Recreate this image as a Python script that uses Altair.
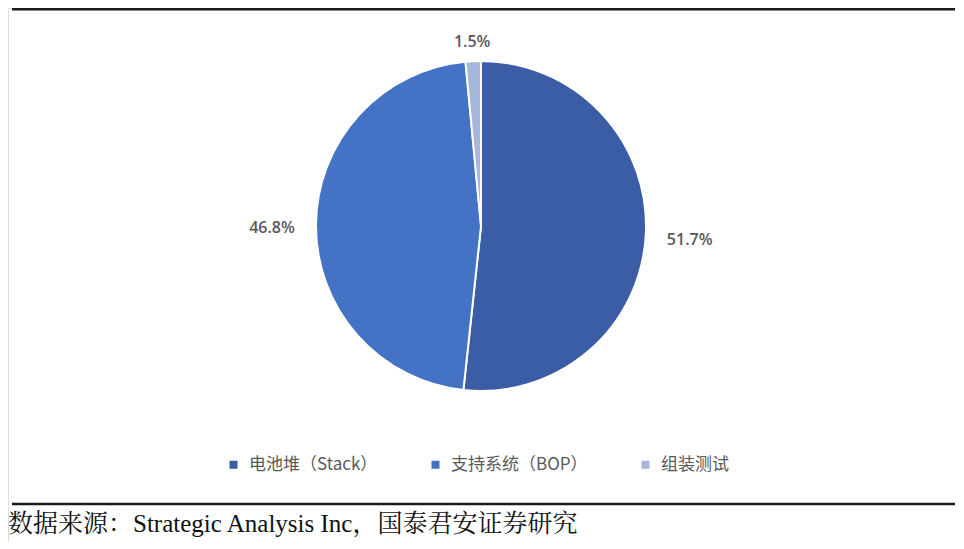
import altair as alt
import pandas as pd

categories = ["电池堆（Stack）", "支持系统（BOP）", "组装测试"]
values = [51.7, 46.8, 1.5]
labels = ["51.7%", "46.8%", "1.5%"]
colors = ["#3A5DA6", "#4472C4", "#A7B6DB"]
source_text = "数据来源：Strategic Analysis Inc，国泰君安证券研究"

df = pd.DataFrame({
    "cat": categories,
    "value": values,
    "label": labels,
    "order": list(range(len(categories))),
})

W, H = 948, 533
CX, CY = 473, 218
R = 165

base = alt.Chart(df).encode(
    theta=alt.Theta("value:Q", stack=True),
    order=alt.Order("order:Q", sort="ascending"),
    x=alt.value(CX),
    y=alt.value(CY),
)

pie = base.mark_arc(outerRadius=R, stroke="white", strokeWidth=2).encode(
    color=alt.Color(
        "cat:N",
        scale=alt.Scale(domain=categories, range=colors),
        sort=categories,
        legend=alt.Legend(
            title=None,
            orient="none",
            legendX=217,
            legendY=448,
            direction="horizontal",
            symbolType="square",
            symbolSize=64,
            symbolStrokeWidth=0,
            labelFont="Noto Sans CJK SC",
            labelFontSize=17,
            labelColor="#595959",
            labelOffset=7,
            columnPadding=49,
            labelLimit=300,
        ),
    )
)

text_style = dict(font="Open Sans", fontSize=16, fontWeight=600, color="#595959",
                  align="center", baseline="middle", dy=3)

labels_big = base.mark_text(radius=209, **text_style).encode(
    text=alt.condition("datum.value > 10", alt.Text("label:N"), alt.value(""))
)

labels_small = base.mark_text(radius=187, **text_style).encode(
    text=alt.condition("datum.value <= 10", alt.Text("label:N"), alt.value(""))
)

one = pd.DataFrame({"t": [source_text]})

top_line = alt.Chart(one).mark_rule(color="#1a1a1a", strokeWidth=3).encode(
    x=alt.value(4), x2=alt.value(947), y=alt.value(1)
)
bottom_line = alt.Chart(one).mark_rule(color="#1a1a1a", strokeWidth=2.5).encode(
    x=alt.value(4), x2=alt.value(947), y=alt.value(496)
)
source = alt.Chart(one).mark_text(
    font="Liberation Serif, Noto Serif CJK SC, Noto Sans CJK SC",
    fontSize=25, color="#111111", align="left", baseline="alphabetic"
).encode(text="t:N", x=alt.value(0), y=alt.value(524))

chart = alt.layer(top_line, bottom_line, pie, labels_big, labels_small, source).properties(
    width=W, height=H, padding=0, autosize=alt.AutoSizeParams(type="none")
).configure_view(stroke=None).configure(background="white")

chart.save("out.html", embed_options={"renderer": "svg", "actions": False})
